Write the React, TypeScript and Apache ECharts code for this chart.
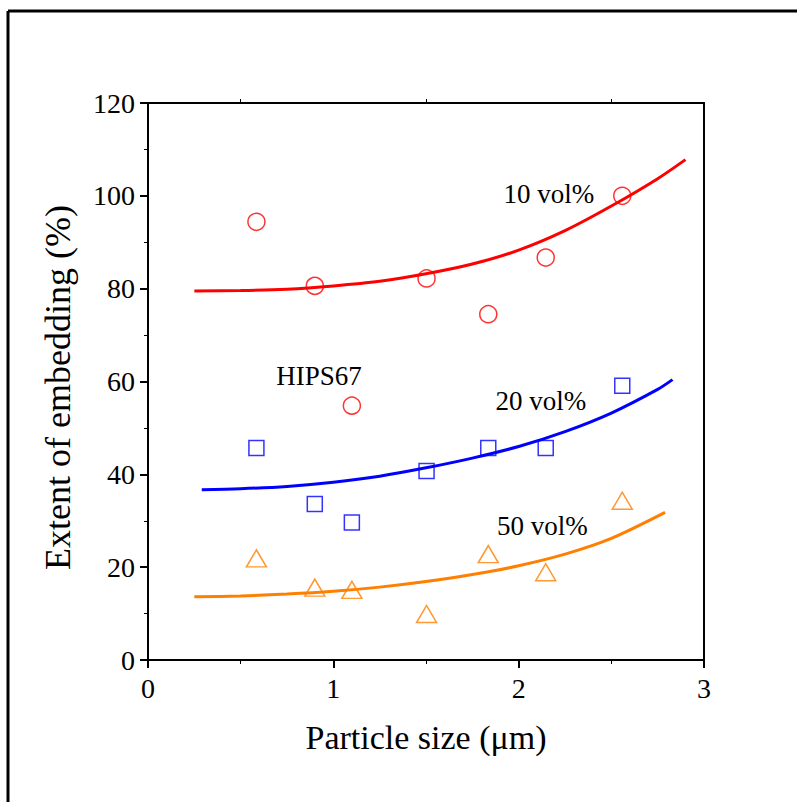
import React, { useEffect, useRef } from "react";
import * as echarts from "echarts";

// Particle size (µm) of the measured samples
const sizes = [0.585, 0.9, 1.1, 1.503, 1.836, 2.146, 2.559];

// Extent of embedding (%)
const red10 = [94.4, 80.6, 54.8, 82.2, 74.5, 86.7, 100.0];
const blue20 = [45.7, 33.6, 29.6, 40.7, 45.7, 45.7, 59.1];
const orange50 = [21.9, 15.6, 15.1, 9.9, 22.8, 18.9, 34.3];

// Fitted curves
const fitRedX = [0.25, 0.5, 0.75, 1.0, 1.25, 1.5, 1.75, 2.0, 2.25, 2.5, 2.75, 2.9];
const fitRedY = [79.5, 79.6, 79.9, 80.6, 81.6, 83.2, 85.3, 88.3, 92.5, 97.8, 103.7, 107.8];
const fitBlueX = [0.29, 0.5, 0.75, 1.0, 1.25, 1.5, 1.75, 2.0, 2.25, 2.5, 2.75, 2.83];
const fitBlueY = [36.7, 36.9, 37.4, 38.3, 39.6, 41.4, 43.5, 46.0, 49.2, 53.2, 58.3, 60.4];
const fitOrangeX = [0.25, 0.5, 0.75, 1.0, 1.25, 1.5, 1.75, 2.0, 2.25, 2.5, 2.79];
const fitOrangeY = [13.6, 13.8, 14.2, 14.8, 15.7, 16.9, 18.4, 20.3, 22.8, 26.2, 31.8];

// Text annotations: [x, y, label]
const annotations: [number, number, string][] = [
  [1.915, 100.4, "10 vol%"],
  [1.872, 55.8, "20 vol%"],
  [1.881, 28.9, "50 vol%"],
  [0.689, 61.2, "HIPS67"],
];

const xTicks = [0, 1, 2, 3];
const yTicks = [0, 20, 40, 60, 80, 100, 120];

const RED = "#ff0000";
const BLUE = "#0000ff";
const ORANGE = "#ff7f00";
const FONT = "Liberation Serif";

const pairs = (xs: number[], ys: number[]) => xs.map((x, i) => [x, ys[i]]);

export default function App() {
  const ref = useRef<HTMLDivElement>(null);
  useEffect(() => {
    document.body.style.margin = "0";
    const chart = echarts.init(ref.current!, undefined, { renderer: "svg" });
    const fitLine = (xs: number[], ys: number[], color: string) => ({
      type: "line",
      data: pairs(xs, ys),
      smooth: 0.3,
      showSymbol: false,
      symbol: "none",
      lineStyle: { color, width: 3 },
      z: 2,
      silent: true,
    });
    const scatter = (ys: number[], color: string, symbol: string, size: any) => ({
      type: "scatter",
      data: pairs(sizes, ys),
      symbol,
      symbolSize: size,
      itemStyle: { color: "rgba(255,255,255,0)", borderColor: color, borderWidth: 1.5 },
      z: 3,
    });
    chart.setOption({
      animation: false,
      backgroundColor: "#ffffff",
      grid: { left: 148, top: 103, width: 556, height: 557 },
      xAxis: [
        {
          type: "value",
          min: xTicks[0],
          max: xTicks[xTicks.length - 1],
          interval: 1,
          name: "Particle size (μm)",
          nameLocation: "middle",
          nameGap: 60,
          nameTextStyle: { fontFamily: FONT, fontSize: 34, color: "#000" },
          axisLine: { show: true, onZero: false, lineStyle: { color: "#000", width: 2 } },
          axisTick: { show: true, inside: false, length: 8, lineStyle: { color: "#000", width: 2 } },
          minorTick: { show: true, splitNumber: 2, length: 4, lineStyle: { color: "#000", width: 1 } },
          axisLabel: { fontFamily: FONT, fontSize: 28, color: "#000", margin: 14 },
          splitLine: { show: false },
        },
        {
          type: "value",
          position: "top",
          min: xTicks[0],
          max: xTicks[xTicks.length - 1],
          interval: 1,
          axisLine: { show: true, onZero: false, lineStyle: { color: "#000", width: 2 } },
          axisTick: { show: false },
          minorTick: { show: true, splitNumber: 2, length: 4, lineStyle: { color: "#000", width: 1 } },
          axisLabel: { show: false },
          splitLine: { show: false },
        },
      ],
      yAxis: [
        {
          type: "value",
          min: yTicks[0],
          max: yTicks[yTicks.length - 1],
          interval: 20,
          name: "Extent of embedding (%)",
          nameLocation: "middle",
          nameGap: 72,
          nameTextStyle: { fontFamily: FONT, fontSize: 36, color: "#000", padding: [0, 12, 0, 0] },
          axisLine: { show: true, onZero: false, lineStyle: { color: "#000", width: 2 } },
          axisTick: { show: true, inside: false, length: 8, lineStyle: { color: "#000", width: 2 } },
          minorTick: { show: true, splitNumber: 2, length: 4, lineStyle: { color: "#000", width: 1 } },
          axisLabel: { fontFamily: FONT, fontSize: 28, color: "#000", margin: 13 },
          splitLine: { show: false },
        },
        {
          type: "value",
          position: "right",
          min: yTicks[0],
          max: yTicks[yTicks.length - 1],
          interval: 20,
          axisLine: { show: true, onZero: false, lineStyle: { color: "#000", width: 2 } },
          axisTick: { show: false },
          minorTick: { show: false },
          axisLabel: { show: false },
          splitLine: { show: false },
        },
      ],
      series: [
        fitLine(fitRedX, fitRedY, RED),
        fitLine(fitBlueX, fitBlueY, BLUE),
        fitLine(fitOrangeX, fitOrangeY, ORANGE),
        scatter(red10, RED, "circle", 17),
        scatter(blue20, BLUE, "rect", 15),
        scatter(orange50, ORANGE, "triangle", [20, 17]),
        {
          type: "scatter",
          data: annotations.map((a) => ({ value: [a[0], a[1]], name: a[2] })),
          symbol: "circle",
          symbolSize: 1,
          itemStyle: { color: "rgba(0,0,0,0)" },
          silent: true,
          label: {
            show: true,
            position: "right",
            distance: 0,
            formatter: (p: any) => p.name,
            fontFamily: FONT,
            fontSize: 27,
            color: "#000000",
            textBorderWidth: 0,
            opacity: 1,
            align: "left",
            verticalAlign: "middle",
          },
          z: 4,
        },
      ],
      graphic: [
        { type: "line", shape: { x1: 8, y1: 11, x2: 8, y2: 802 }, style: { stroke: "#000", lineWidth: 3 } },
        { type: "line", shape: { x1: 8, y1: 11, x2: 797, y2: 11 }, style: { stroke: "#000", lineWidth: 3 } },
      ],
    });
    return () => chart.dispose();
  }, []);
  return <div ref={ref} style={{ width: 797, height: 802 }} />;
}
